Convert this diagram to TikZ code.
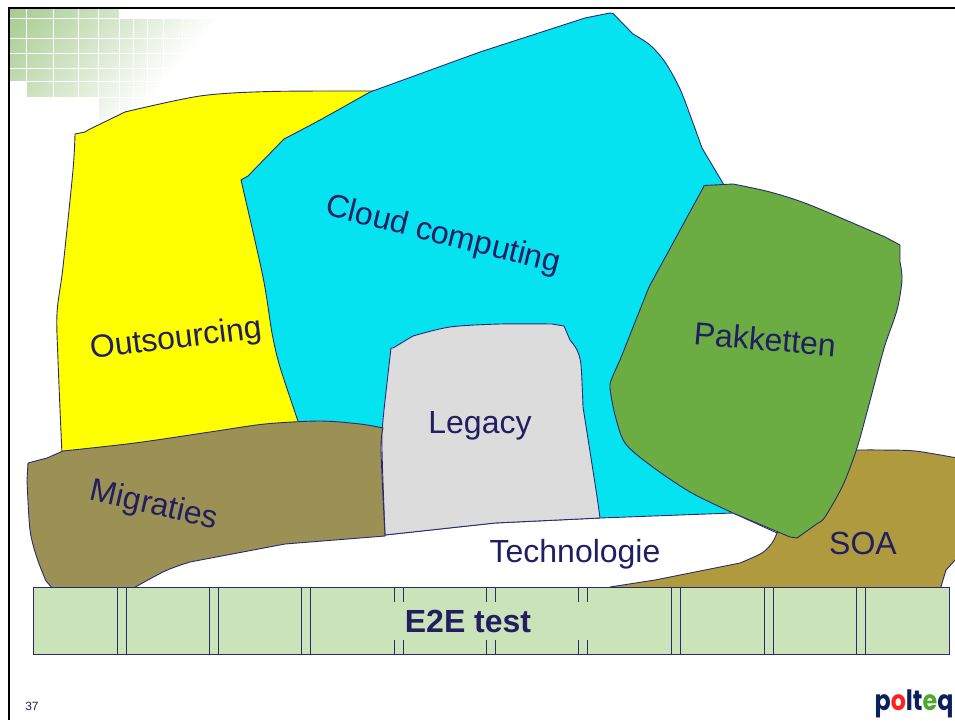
\documentclass[tikz,border=0pt]{standalone}
\usepackage{fontspec}
\setmainfont{Liberation Sans}
\newfontfamily\logofont{Poppins}
\definecolor{inkblue}{HTML}{211E62}
\definecolor{linenavy}{HTML}{2A2A70}
\definecolor{sunyellow}{HTML}{FFFF00}
\definecolor{cloudcyan}{HTML}{05E3F0}
\definecolor{legacygray}{HTML}{DCDCDC}
\definecolor{migrbrown}{HTML}{9C9154}
\definecolor{soagold}{HTML}{B09A3E}
\definecolor{pakgreen}{HTML}{6BAD43}
\definecolor{barmint}{HTML}{CBE3B9}
\definecolor{tilegreen}{HTML}{A6CB90}
\definecolor{logonavy}{HTML}{0B1F5C}
\definecolor{logored}{HTML}{FF1F1F}
\definecolor{logogreen}{HTML}{4FA82E}
\tikzset{
  area/.style={draw=linenavy, line width=0.9pt, line join=round},
  label/.style={text=inkblue, font=\fontsize{32}{32}\selectfont, inner sep=0pt},
  seam/.style={draw=linenavy, line width=0.9pt},
}
\begin{document}
\begin{tikzpicture}[x=1pt, y=-1pt]
\useasboundingbox (0,0) rectangle (955,720);

% tiles in the corner
\begin{scope}
\clip (10,9) rectangle (119,18) (10,18) rectangle (223,81)
      (26,81) rectangle (223,97) (98,97) rectangle (223,120);
\shade[left color=tilegreen, right color=white, transform canvas={rotate around={-41:(10,9)}}]
  (10,-191) rectangle (175,209);
\end{scope}
\foreach \tx in {26,53,78,98,119,133,147,163,182,204}
  \draw[white, line width=0.8pt] (\tx,9) -- (\tx,120);
\foreach \ty in {18,38,53,68,81,97}
  \draw[white, line width=0.8pt] (10,\ty) -- (223,\ty);

% slide frame
\draw[black, line width=2.6pt] (9,720) -- (9,8) -- (955,8);

\fill[sunyellow, area] (75,134) -- (85,132) -- (88,130) -- (125,112)
  -- plot[smooth, tension=0.5] coordinates {(125,112) (200,96) (270,91.5) (380,91)}
  -- (300,430) -- (62,455)
  -- plot[smooth, tension=0.5] coordinates {(62,455) (58,360) (57,313) (63,267) (73,170) (75,134)} -- cycle;

\fill[cloudcyan, area] (241,180) -- (248,176) -- (284,139)
  -- plot[smooth, tension=0.5] coordinates {(284,139) (320,120) (370,92)}
  -- (480,52) -- (585,18) -- (610,13) -- (613,13.5) -- (633,34)
  -- plot[smooth, tension=0.5] coordinates {(633,34) (650,45) (665,62) (680,89) (693,123) (702,148)}
  -- (724,185) -- (760,514) -- (733,513) -- (600,518) -- (495,523) -- (385,535) -- (385,430) -- (299,424)
  -- plot[smooth, tension=0.5] coordinates {(299,424) (280,367) (272,333) (263,277) (241,180)} -- cycle;

\fill[soagold, area] (610,590) -- (610,587) -- (655,580) -- (740,563)
  -- plot[smooth, tension=0.5] coordinates {(740,563) (762,553) (772,543) (777,533)}
  -- (800,500) -- (857,450)
  -- plot[smooth, tension=0.5] coordinates {(857,450) (880,450) (915,451) (957,458)}
  -- (957,558) -- (946,570) -- (940,590) -- cycle;

% white band only shows its upper edge
\draw[area] (733,513) -- (777,533);

\fill[legacygray, area] (391,348) -- (393,348) -- (413,336)
  -- plot[smooth, tension=0.5] coordinates {(413,336) (450,327) (500,324) (552,324)}
  -- (564,326) -- (570,340)
  -- plot[smooth, tension=0.5] coordinates {(570,340) (577,350) (581,365) (583,407)}
  -- plot[smooth, tension=0.5] coordinates {(583,407) (596,490) (600,518)}
  -- (495,523) -- (385,535)
  -- plot[smooth, tension=0.5] coordinates {(385,535) (382,450) (383,420) (391,348)} -- cycle;

\fill[migrbrown, area] (28,463) -- (47,458) -- (63,451)
  -- plot[smooth, tension=0.5] coordinates {(63,451) (135,443) (210,432) (265,424) (320,421) (360,424) (383,428)}
  -- plot[smooth, tension=0.5] coordinates {(383,428) (381,450) (385,536)}
  -- (285,544) -- (190,562)
  -- plot[smooth, tension=0.5] coordinates {(190,562) (165,571) (130,590)}
  -- (54,590) -- (46,581)
  -- plot[smooth, tension=0.5] coordinates {(46,581) (37,558) (30,530) (27,480)} -- cycle;

\fill[pakgreen, area] (703.5,187) -- (704,185.5) -- (733,184)
  -- plot[smooth, tension=0.5] coordinates {(733,184) (770,192) (810,205) (885,237)}
  -- (900,245) -- (900,262)
  -- plot[smooth, tension=0.5] coordinates {(900,262) (902,280) (897,310) (885,345) (876,378) (867,412)
    (857,448) (843,485) (825,517) (818,523)}
  -- (797,538) -- (790,537) -- (733,513)
  -- plot[smooth, tension=0.5] coordinates {(733,513) (690,492) (650,465) (625,443) (615,415) (610,388) (612,378) (620,360)}
  -- (649,287) -- cycle;

% test bar
\fill[barmint, seam] (33,587) rectangle (949,654);
\foreach \sx in {117,209.5,301.5,394,486.5,578.7,671.5,764,856}
  \draw[seam] (\sx,587) -- (\sx,654) (\sx+9,587) -- (\sx+9,654);
\node[fill=barmint, minimum width=204pt, minimum height=38pt, inner sep=0pt] (e2ecover) at (492,621) {};
\node[text=inkblue, font=\fontsize{32}{32}\selectfont\bfseries, inner sep=0pt] (e2e) at (468,621) {E2E test};

\node[label, rotate=7] (outsourcing) at (176,340) {Outsourcing};
\node[label, rotate=-14] (cloud) at (443,236) {Cloud computing};
\node[label] (legacy) at (480,426) {Legacy};
\node[label, rotate=-5] (pakketten) at (765,339) {Pakketten};
\node[label, rotate=-13] (migraties) at (154,506) {Migraties};
\node[label] (technologie) at (575,554) {Technologie};
\node[label] (soa) at (863,543) {SOA};

\node[text=inkblue, font=\fontsize{12}{12}\selectfont, inner sep=0pt] (pagenr) at (32,706) {37};
\node[font=\fontsize{28}{28}\logofont\bfseries, inner sep=0pt, xscale=0.85] (logo) at (914,704)
  {\textcolor{logonavy}{p}\textcolor{logored}{o}\textcolor{logonavy}{lt}\textcolor{logogreen}{e}\textcolor{logonavy}{q}};
\end{tikzpicture}
\end{document}
